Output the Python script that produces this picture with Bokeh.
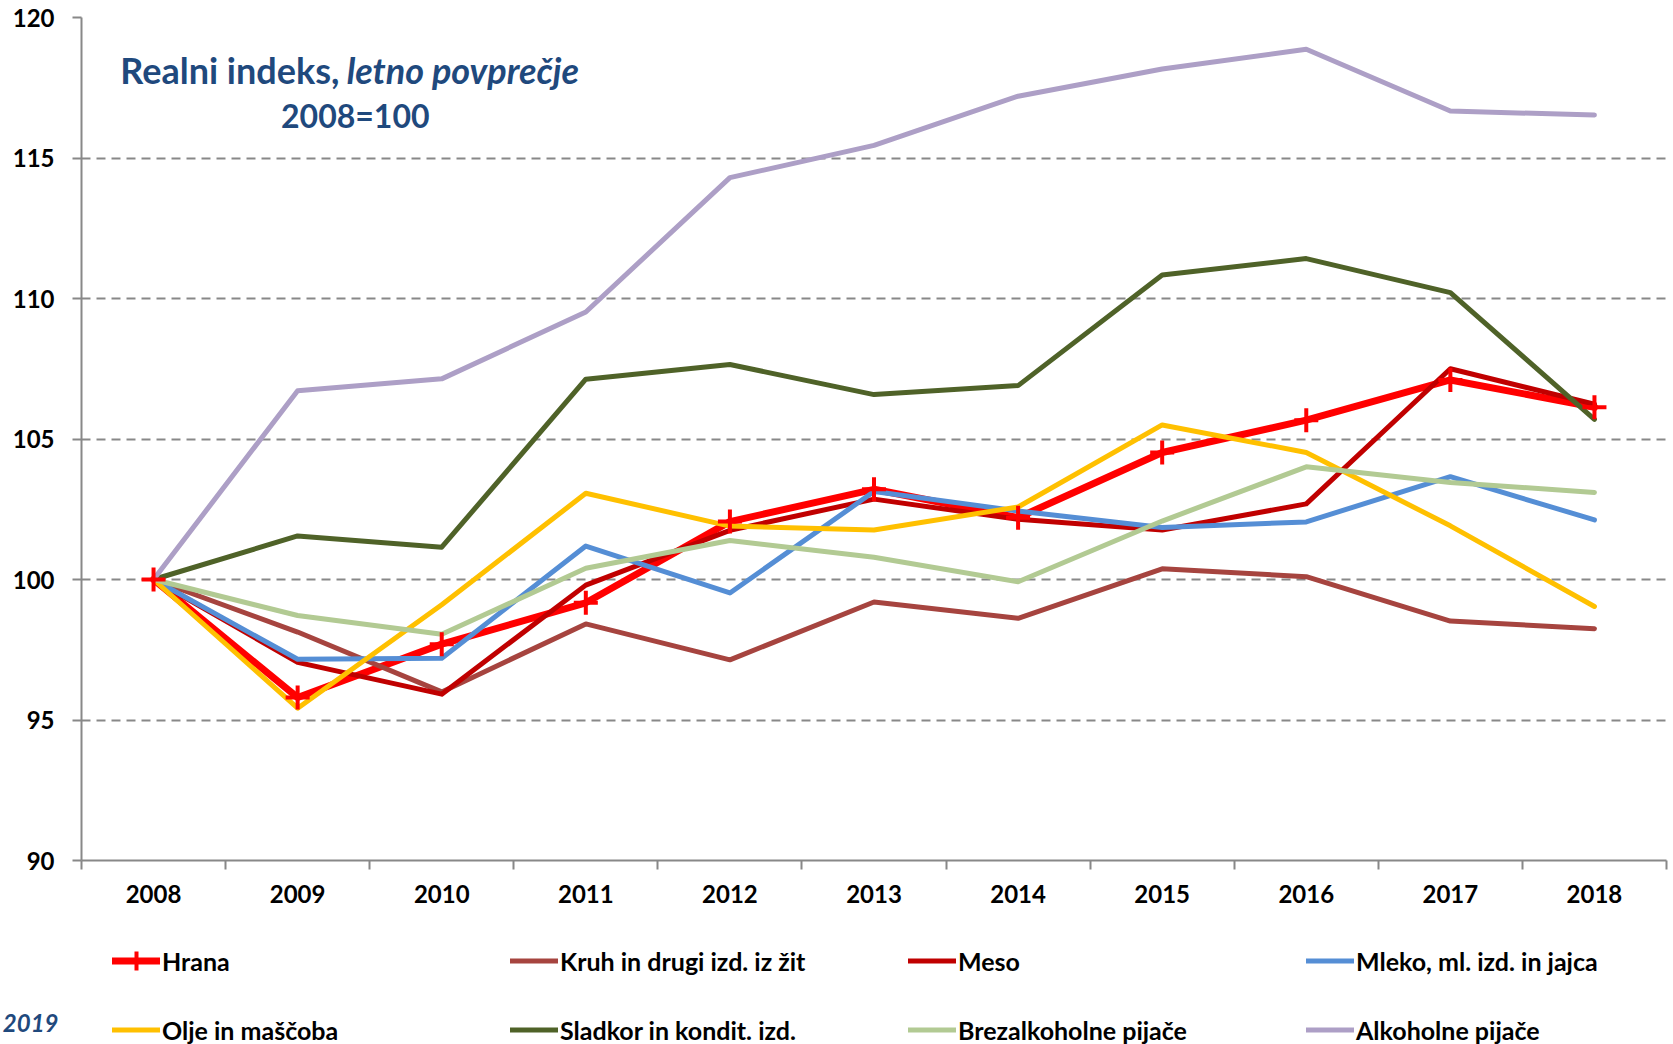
from bokeh.plotting import figure
from bokeh.layouts import column
from bokeh.models import Range1d, FixedTicker, Legend, LegendItem, Label
from bokeh.embed import file_html
from bokeh.resources import INLINE

# ---- data ----
years = [2008, 2009, 2010, 2011, 2012, 2013, 2014, 2015, 2016, 2017, 2018]
year_labels = [str(y) for y in years]
y_ticks = [90, 95, 100, 105, 110, 115, 120]

hrana = [100, 95.8, 97.7, 99.17, 102.06, 103.21, 102.2, 104.52, 105.67, 107.1, 106.13]
kruh = [100, 98.13, 96.0, 98.42, 97.14, 99.2, 98.62, 100.38, 100.1, 98.52, 98.25]
meso = [100, 97.05, 95.92, 99.8, 101.75, 102.86, 102.14, 101.76, 102.69, 107.5, 106.24]
mleko = [100, 97.16, 97.2, 101.19, 99.52, 103.13, 102.44, 101.85, 102.05, 103.66, 102.12]
olje = [100, 95.42, 99.1, 103.07, 101.9, 101.76, 102.58, 105.5, 104.52, 101.91, 99.04]
sladkor = [100, 101.55, 101.15, 107.13, 107.65, 106.58, 106.9, 110.84, 111.42, 110.21, 105.7]
brezalk = [100, 98.72, 98.05, 100.4, 101.39, 100.79, 99.92, 102.08, 104.01, 103.45, 103.1]
alkohol = [100, 106.72, 107.14, 109.52, 114.3, 115.45, 117.2, 118.17, 118.87, 116.67, 116.53]

series_names = ["Hrana", "Kruh in drugi izd. iz žit", "Meso", "Mleko, ml. izd. in jajca",
                "Olje in maščoba", "Sladkor in kondit. izd.", "Brezalkoholne pijače", "Alkoholne pijače"]
series_values = [hrana, kruh, meso, mleko, olje, sladkor, brezalk, alkohol]
series_colors = ["#FF0000", "#A6443F", "#C00000", "#558ED5", "#FFC000", "#4F6228", "#B2CA93", "#AD9FC6"]
series_widths = [7, 5, 5, 5, 5, 5, 5, 5]

FONT = "Lato"
TITLE_COLOR = "#1F497D"
GRID_COLOR = "#888888"

p = figure(width=1673, height=920, output_backend="svg", toolbar_location=None,
           x_range=Range1d(2007.5, 2018.5), y_range=Range1d(90, 120),
           min_border_left=81, min_border_right=7, min_border_top=17, min_border_bottom=60)
p.outline_line_color = None
p.background_fill_color = "white"
p.border_fill_color = "white"

# axes
p.xaxis.ticker = FixedTicker(ticks=years, minor_ticks=[y - 0.5 for y in years] + [years[-1] + 0.5])
p.xaxis.major_label_overrides = {y: lab for y, lab in zip(years, year_labels)}
p.xaxis.major_tick_out = 0
p.xaxis.major_tick_in = 0
p.xaxis.minor_tick_out = 9
p.xaxis.minor_tick_in = 0
p.xaxis.minor_tick_line_color = GRID_COLOR
p.xaxis.minor_tick_line_width = 2
p.xaxis.major_label_standoff = 15
p.yaxis.ticker = FixedTicker(ticks=y_ticks)
p.yaxis.major_tick_out = 9
p.yaxis.major_tick_in = 0
p.yaxis.minor_tick_out = 0
p.yaxis.minor_tick_in = 0
p.yaxis.major_label_standoff = 18
for ax in (p.xaxis, p.yaxis):
    ax.axis_line_color = GRID_COLOR
    ax.axis_line_width = 2
    ax.major_tick_line_color = GRID_COLOR
    ax.major_tick_line_width = 2
    ax.major_label_text_font = FONT
    ax.major_label_text_font_style = "bold"
    ax.major_label_text_font_size = "24px"
    ax.major_label_text_color = "black"

p.xgrid.grid_line_color = None
p.ygrid.grid_line_color = GRID_COLOR
p.ygrid.grid_line_width = 1.8
p.ygrid.grid_line_dash = "9 6"

# series
for name, vals, col, w in zip(series_names, series_values, series_colors, series_widths):
    p.line(years, vals, line_color=col, line_width=w, line_join="round", line_cap="round")
# Hrana markers
p.scatter(years, hrana, marker="cross", size=24, line_color="#FF0000", line_width=4)

# title texts
p.add_layout(Label(x=2009.29, y=118.12, text="Realni indeks,", text_align="right",
                   text_baseline="alphabetic", text_font=FONT, text_font_style="bold",
                   text_font_size="36px", text_color=TITLE_COLOR))
p.add_layout(Label(x=2009.34, y=118.12, text="letno povprečje", text_align="left",
                   text_baseline="alphabetic", text_font=FONT, text_font_style="bold italic",
                   text_font_size="36px", text_color=TITLE_COLOR))
p.add_layout(Label(x=2009.40, y=116.52, text="2008=100", text_align="center",
                   text_baseline="alphabetic", text_font=FONT, text_font_style="bold",
                   text_font_size="32px", text_color=TITLE_COLOR))

# ---- legend strip below ----
q = figure(width=1673, height=124, output_backend="svg", toolbar_location=None,
           x_range=Range1d(0, 1), y_range=Range1d(0, 1),
           x_axis_location=None, y_axis_location=None,
           min_border_left=0, min_border_right=0, min_border_top=0, min_border_bottom=0)
q.frame_align = False
q.outline_line_color = None
q.xgrid.grid_line_color = None
q.ygrid.grid_line_color = None

nan = float("nan")
items = []
for i, (name, col, w) in enumerate(zip(series_names, series_colors, series_widths)):
    rs = [q.line([nan], [nan], line_color=col, line_width=w, line_cap="round")]
    if i == 0:
        rs.append(q.scatter([nan], [nan], marker="cross", size=22, line_color="#FF0000", line_width=4))
    items.append(LegendItem(label=name, renderers=rs))

legend = Legend(items=items, location=(112, -20), orientation="horizontal", ncols=4,
                glyph_width=48, glyph_height=69, label_height=69, label_width=348,
                label_standoff=2, spacing=0, padding=0, margin=0,
                label_text_font=FONT, label_text_font_style="bold",
                label_text_font_size="25px", label_text_color="black",
                border_line_color=None, background_fill_alpha=0)
q.add_layout(legend, "center")

q.add_layout(Label(x=58, y=22, x_units="screen", y_units="screen", text="2019",
                   text_align="right", text_baseline="middle", text_font=FONT,
                   text_font_style="bold italic", text_font_size="24px", text_color=TITLE_COLOR))

layout = column(p, q, spacing=0)
open("out.html", "w").write(file_html(layout, INLINE))
